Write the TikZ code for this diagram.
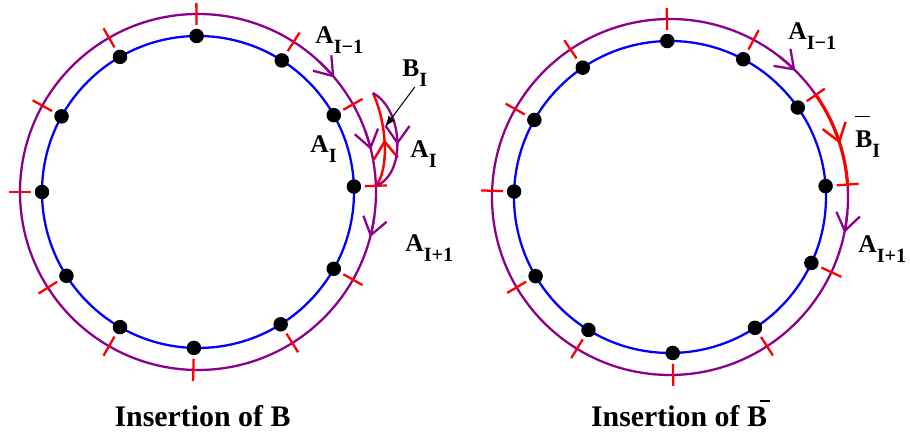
\documentclass[tikz,border=0pt]{standalone}
\usepackage{fontspec}
\setmainfont{Liberation Serif}
\usetikzlibrary{arrows.meta,decorations.markings}
\definecolor{ringpurple}{RGB}{140,0,140}
\newcommand{\lab}[2]{\textbf{#1}\raisebox{-0.38em}{\fontsize{11.5}{11.5}\selectfont\bfseries #2}}
\newcommand{\barredB}[3]{\rlap{\hspace{#1}\rule[#2]{#3}{0.06em}}B}

\begin{document}
\begin{tikzpicture}[
    font=\fontsize{14.5}{17}\selectfont\bfseries,
    blue ring/.style={blue, line width=1.3pt},
    purple ring/.style={ringpurple, line width=1.3pt},
    tickmark/.style={red, line width=1.3pt},
    flow/.style={-{Straight Barb[length=3.4mm,width=4.8mm]}},
    midflow/.style={postaction={decorate}, decoration={markings, mark=at position #1 with {\arrow{Straight Barb[length=3.4mm,width=4.8mm]}}}},
    lbl/.style={anchor=base west, inner sep=0pt},
    caption/.style={anchor=base, font=\fontsize{17}{20}\selectfont\bfseries}
  ]
\useasboundingbox (0,0) rectangle (18.2,8.7);

\begin{scope}[shift={(3.96,4.86)}]
  \draw[blue ring] (0,0) circle (3.12);
  \draw[purple ring] (0,0) circle (3.56);
  \draw[purple ring, flow] (47:3.56) arc[start angle=47, end angle=40, radius=3.56];
  \draw[purple ring, flow] (20:3.56) arc[start angle=20, end angle=13.7, radius=3.56];
  \draw[purple ring, flow] (-8:3.56) arc[start angle=-8, end angle=-14.7, radius=3.56];
  \foreach \a in {90.5,120,151,180,212.5,240,268.5,302,330.5,2,29.5,57.5} {
    \draw[tickmark] (\a:3.34) -- (\a:3.78);
    \fill (\a:3.12) circle (0.145);
  }
  \coordinate (lt) at (29.5:4.02);
  \coordinate (lb) at (2:3.56);
  \coordinate (tip) at (3.74,1.3);
  \draw[red, line width=1.4pt, midflow=0.5] (lb) .. controls (3.82,0.44) and (3.79,1.34) .. (lt);
  \draw[purple ring, midflow=0.55] (lt) .. controls (4.12,1.64) and (4.16,0.34) .. (lb);
\end{scope}

\begin{scope}[shift={(13.40,4.76)}]
  \draw[blue ring] (0,0) circle (3.12);
  \draw[purple ring] (0,0) circle (3.56);
  \draw[red, line width=1.8pt] (35:3.56) arc[start angle=35, end angle=4, radius=3.56];
  \draw[purple ring, flow] (52:3.56) arc[start angle=52, end angle=45.2, radius=3.56];
  \draw[red, line width=1.4pt, flow] (24:3.56) arc[start angle=24, end angle=17.4, radius=3.56];
  \draw[purple ring, flow] (-5:3.56) arc[start angle=-5, end angle=-11.6, radius=3.56];
  \foreach \a in {91,62,35,4,335,303,271,238.5,210.5,178,150.4,124} {
    \draw[tickmark] (\a:3.34) -- (\a:3.78);
    \fill (\a:3.12) circle (0.145);
  }
\end{scope}

\node[lbl] (am1L) at (6.30,7.82) {\lab{A}{I−1}};
\node[lbl] (aiL) at (6.20,5.64) {\lab{A}{I}};
\node[lbl] (aiLout) at (8.20,5.54) {\lab{A}{I}};
\node[lbl] (ap1L) at (8.10,3.66) {\lab{A}{I+1}};
\node[lbl] (biL) at (8.04,7.16) {\lab{B}{I}};
\draw[-{Latex[length=2.2mm,width=1.6mm]}, line width=0.6pt] (biL.south) -- (tip);

\node[lbl] (am1R) at (15.76,7.90) {\lab{A}{I−1}};
\node[lbl] (biR) at (17.10,5.74) {\lab{\barredB{0em}{1.21em}{0.59em}}{I}};
\node[lbl] (ap1R) at (17.16,3.64) {\lab{A}{I+1}};

\node[caption] (capL) at (4.05,0.16) {Insertion of B};
\node[caption] (capR) at (13.58,0.16) {Insertion of \barredB{0.43em}{0.83em}{0.33em}};
\end{tikzpicture}
\end{document}
